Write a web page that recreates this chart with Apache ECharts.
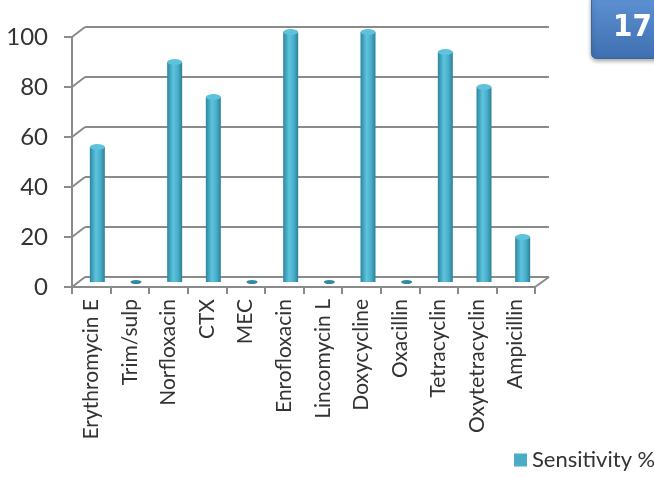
<!DOCTYPE html>
<html>
<head>
<meta charset="utf-8">
<script src="https://cdn.jsdelivr.net/npm/echarts@6/dist/echarts.min.js"></script>
<style>
  html, body { margin: 0; padding: 0; background: #fff; }
  #container { width: 654px; height: 477px; }
</style>
</head>
<body>
<div id="container"></div>
<script>
// 数据
var drugs = ['Erythromycin E', 'Trim/sulp', 'Norfloxacin', 'CTX', 'MEC', 'Enrofloxacin',
             'Lincomycin L', 'Doxycycline', 'Oxacillin', 'Tetracyclin', 'Oxytetracyclin', 'Ampicillin'];
var sensitivity = [54, 0, 88, 74, 0, 100, 0, 100, 0, 92, 78, 18];
var yTicks = [0, 20, 40, 60, 80, 100];
var seriesName = 'Sensitivity %';
var badgeText = '17';

var myChart = echarts.init(document.getElementById('container'));

var gridColor = '#8a8a8a';
var font = 'Lato';

// 顶部椭圆，0值时画成扁的小圆片
var capData = sensitivity.map(function (v) {
    return v === 0
        ? { value: v, symbolSize: [11, 4], itemStyle: { color: '#2f8ba5' } }
        : { value: v, symbolSize: [15, 6], itemStyle: { color: '#5fc2db' } };
});

var option = {
    animation: false,
    legend: {
        data: [{ name: seriesName, itemStyle: { color: '#4bacc6' } }],
        left: 509,
        top: 444,
        icon: 'rect',
        itemWidth: 13,
        itemHeight: 13,
        itemGap: 3,
        textStyle: { fontFamily: font, fontSize: 22, color: '#333' }
    },
    grid: [
        // 前面
        { left: 72, right: 119, top: 37, bottom: 190 },
        // 后墙
        { left: 85, right: 105, top: 27, bottom: 200 },
        // 柱子中间层
        { left: 78, right: 112, top: 32, bottom: 195 }
    ],
    xAxis: [
        {
            gridIndex: 0, type: 'category', data: drugs,
            axisLine: { lineStyle: { color: gridColor, width: 2 } },
            axisTick: { show: true, length: 7, lineStyle: { color: gridColor, width: 2 } },
            axisLabel: { rotate: 90, interval: 0, margin: 12, fontFamily: font, fontSize: 21, color: '#333' }
        },
        {
            gridIndex: 1, type: 'category', data: drugs,
            axisLine: { show: false }, axisTick: { show: false }, axisLabel: { show: false }
        },
        {
            gridIndex: 2, type: 'category', data: drugs,
            axisLine: { show: false }, axisTick: { show: false }, axisLabel: { show: false }
        }
    ],
    yAxis: [
        {
            gridIndex: 0, type: 'value', min: 0, max: 100, interval: 20,
            axisLine: { show: true, lineStyle: { color: gridColor, width: 2 } },
            axisTick: { show: true, length: 8, lineStyle: { color: gridColor, width: 2 } },
            splitLine: { show: false },
            axisLabel: { margin: 24, fontFamily: font, fontSize: 24, color: '#333' }
        },
        {
            gridIndex: 1, type: 'value', min: 0, max: 100, interval: 20,
            axisLine: { show: false }, axisTick: { show: false }, axisLabel: { show: false },
            splitLine: { show: true, lineStyle: { color: gridColor, width: 2 } }
        },
        {
            gridIndex: 2, type: 'value', min: 0, max: 100, interval: 20,
            axisLine: { show: false }, axisTick: { show: false }, axisLabel: { show: false },
            splitLine: { show: false }
        }
    ],
    series: [
        {
            // 斜线连接前后
            type: 'custom',
            xAxisIndex: 0, yAxisIndex: 0,
            data: yTicks,
            silent: true,
            renderItem: function (params, api) {
                var cs = params.coordSys;
                var p = api.coord([0, api.value(0)]);
                var children = [{
                    type: 'line',
                    shape: { x1: cs.x, y1: p[1], x2: cs.x + 13, y2: p[1] - 10 },
                    style: { stroke: gridColor, lineWidth: 2 }
                }];
                if (api.value(0) === 0) {
                    children.push({
                        type: 'line',
                        shape: { x1: cs.x + cs.width, y1: p[1], x2: cs.x + cs.width + 14, y2: p[1] - 10 },
                        style: { stroke: gridColor, lineWidth: 2 }
                    });
                }
                return { type: 'group', children: children };
            },
            encode: { y: 0 }
        },
        {
            name: seriesName,
            type: 'bar',
            xAxisIndex: 2, yAxisIndex: 2,
            barWidth: 15,
            data: sensitivity,
            itemStyle: {
                color: new echarts.graphic.LinearGradient(0, 0, 1, 0, [
                    { offset: 0, color: '#2a86a0' },
                    { offset: 0.4, color: '#5ec3de' },
                    { offset: 0.7, color: '#4aafca' },
                    { offset: 1, color: '#2a8198' }
                ])
            },
            z: 3
        },
        {
            name: 'cap',
            type: 'pictorialBar',
            xAxisIndex: 2, yAxisIndex: 2,
            symbol: 'circle',
            symbolPosition: 'end',
            symbolOffset: [0, '-50%'],
            data: capData,
            z: 4
        }
    ],
    graphic: [
        {
            type: 'rect',
            left: 591, top: -6,
            shape: { width: 70, height: 64, r: 5 },
            style: {
                fill: new echarts.graphic.LinearGradient(0, 0, 0, 1, [
                    { offset: 0, color: '#5f93d3' },
                    { offset: 1, color: '#3e6fb0' }
                ]),
                stroke: '#3a659f',
                lineWidth: 1,
                shadowBlur: 4,
                shadowColor: 'rgba(0,0,0,0.35)',
                shadowOffsetY: 2
            }
        },
        {
            type: 'text',
            left: 613, top: 12,
            style: {
                text: badgeText,
                fill: '#fff',
                font: 'bold 31px "DejaVu Sans Condensed", "Liberation Sans Narrow", sans-serif'
            }
        }
    ]
};

myChart.setOption(option);
</script>
</body>
</html>
